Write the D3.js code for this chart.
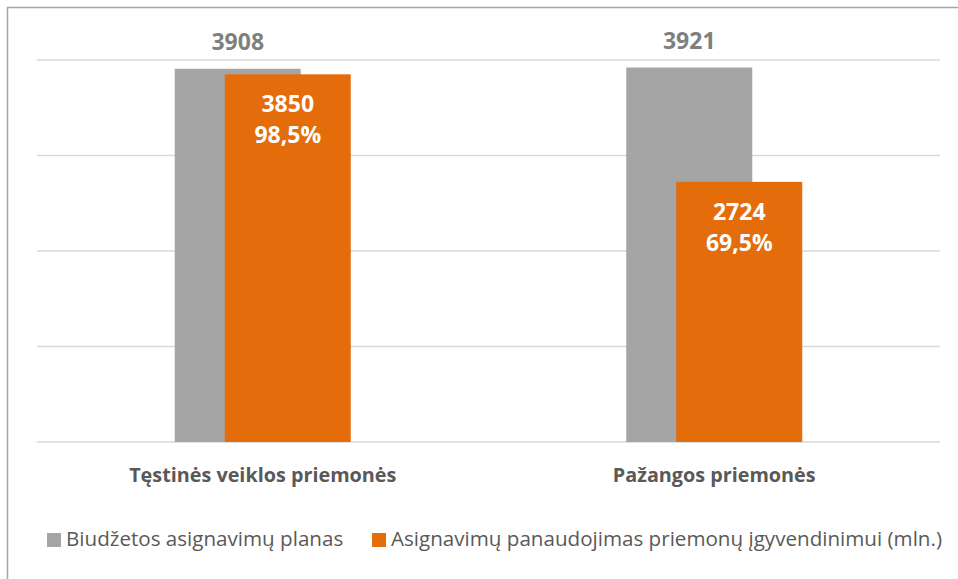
<!DOCTYPE html>
<html>
<head>
<meta charset="utf-8">
<script src="https://cdn.jsdelivr.net/npm/d3@7"></script>
<style>
  body { margin: 0; background: #fff; }
  svg { display: block; font-family: "Open Sans", Lato, sans-serif; }
</style>
</head>
<body>
<svg id="chart"></svg>
<script>
const categories = ["Tęstinės veiklos priemonės", "Pažangos priemonės"];
const seriesNames = ["Biudžetos asignavimų planas", "Asignavimų panaudojimas priemonų įgyvendinimui (mln.)"];
const planValues = [3908, 3921];
const usedValues = [3850, 2724];
const usedPercent = ["98,5%", "69,5%"];
const gridTicks = [0, 1000, 2000, 3000, 4000];

const width = 958, height = 579;
const colors = ["#a5a5a5", "#e46c0a"];
const plot = { left: 37, right: 940, top: 60, bottom: 442 };

const svg = d3.select("#chart")
    .attr("width", width)
    .attr("height", height);

// frame (only left/top visible in the crop)
svg.append("rect")
    .attr("x", 7.5).attr("y", 7.5)
    .attr("width", width + 10).attr("height", height + 10)
    .attr("fill", "none")
    .attr("stroke", "#a6a6a6")
    .attr("stroke-width", 1.5);

const x = d3.scaleBand()
    .domain(categories)
    .range([plot.left, plot.right]);

const y = d3.scaleLinear()
    .domain([0, 4000])
    .range([plot.bottom, plot.top]);

// gridlines
svg.append("g")
    .selectAll("line")
    .data(gridTicks)
    .join("line")
    .attr("x1", plot.left)
    .attr("x2", plot.right)
    .attr("y1", d => y(d))
    .attr("y2", d => y(d))
    .attr("stroke", "#d9d9d9")
    .attr("stroke-width", 1.5);

const barW = 126;
const shift = 50; // orange bar overlaps the gray one
const groupW = barW + shift;

const groups = svg.append("g")
    .selectAll("g")
    .data(categories)
    .join("g")
    .attr("transform", d => `translate(${x(d) + x.bandwidth() / 2 - groupW / 2},0)`);

// plan bars
groups.append("rect")
    .attr("x", 0)
    .attr("y", (d, i) => y(planValues[i]))
    .attr("width", barW)
    .attr("height", (d, i) => y(0) - y(planValues[i]))
    .attr("fill", colors[0]);

// used bars
groups.append("rect")
    .attr("x", shift)
    .attr("y", (d, i) => y(usedValues[i]))
    .attr("width", barW)
    .attr("height", (d, i) => y(0) - y(usedValues[i]))
    .attr("fill", colors[1]);

// plan labels above
groups.append("text")
    .attr("x", barW / 2)
    .attr("y", (d, i) => y(planValues[i]) - 19)
    .attr("text-anchor", "middle")
    .attr("font-weight", "bold")
    .attr("font-size", 23)
    .attr("fill", "#7f7f7f")
    .text((d, i) => planValues[i]);

// used labels inside
groups.append("text")
    .attr("x", shift + barW / 2)
    .attr("y", (d, i) => y(usedValues[i]) + 38)
    .attr("text-anchor", "middle")
    .attr("font-weight", "bold")
    .attr("font-size", 23)
    .attr("fill", "#fff")
    .text((d, i) => usedValues[i]);

groups.append("text")
    .attr("x", shift + barW / 2)
    .attr("y", (d, i) => y(usedValues[i]) + 69)
    .attr("text-anchor", "middle")
    .attr("font-weight", "bold")
    .attr("font-size", 23)
    .attr("fill", "#fff")
    .text((d, i) => usedPercent[i]);

// category labels
svg.append("g")
    .selectAll("text")
    .data(categories)
    .join("text")
    .attr("x", d => x(d) + x.bandwidth() / 2)
    .attr("y", 482)
    .attr("text-anchor", "middle")
    .attr("font-weight", "bold")
    .attr("font-size", 19.8)
    .attr("fill", "#595959")
    .text(d => d);

// legend
const legendX = [47, 372];
const legend = svg.append("g")
    .selectAll("g")
    .data(seriesNames)
    .join("g")
    .attr("transform", (d, i) => `translate(${legendX[i]},533)`);

legend.append("rect")
    .attr("width", 14)
    .attr("height", 14)
    .attr("fill", (d, i) => colors[i]);

legend.append("text")
    .attr("x", 19)
    .attr("y", 13)
    .attr("font-size", 20.6)
    .attr("fill", "#595959")
    .text(d => d);
</script>
</body>
</html>
